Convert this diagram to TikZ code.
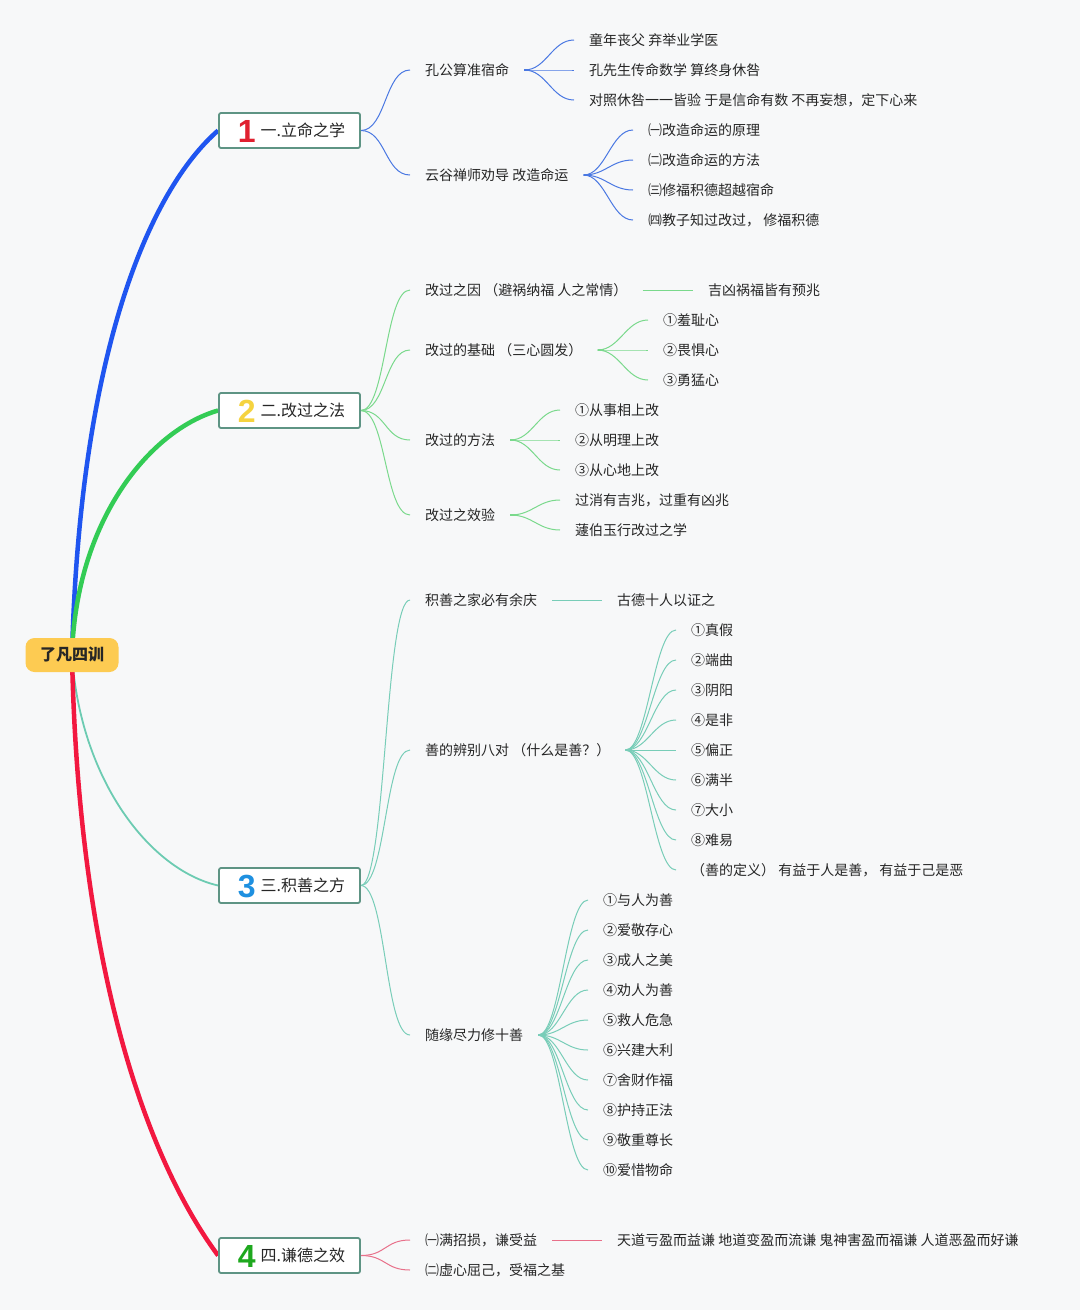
\documentclass[tikz,border=0pt]{standalone}
\usepackage{fontspec}
\setmainfont{Noto Sans CJK SC}
\newfontfamily\numfont{Liberation Sans}
\usetikzlibrary{calc,backgrounds}
\definecolor{bgc}{HTML}{F7F8F9}
\definecolor{ink}{HTML}{262626}
\definecolor{boxline}{HTML}{5E9484}
\definecolor{rootfill}{HTML}{FDCB52}
\definecolor{brBlue}{HTML}{1F55F0}
\definecolor{brGreen}{HTML}{33CC55}
\definecolor{brTeal}{HTML}{6CCBB2}
\definecolor{brRed}{HTML}{F21840}
\definecolor{lnBlue}{HTML}{4A78E2}
\definecolor{lnGreen}{HTML}{7AD98C}
\definecolor{lnTeal}{HTML}{78CDB8}
\definecolor{lnRed}{HTML}{E8708A}
\definecolor{num1}{HTML}{E0202F}
\definecolor{num2}{HTML}{F5D33F}
\definecolor{num3}{HTML}{1E90E0}
\definecolor{num4}{HTML}{1EA81E}
\newcommand{\bignum}[2]{{\raisebox{-6pt}{\numfont\bfseries\fontsize{32}{32}\selectfont\color{#1}#2}}}
\begin{document}
\begin{tikzpicture}[x=1pt,y=-1pt,
  txt/.style={anchor=west,inner xsep=15pt,inner ysep=2pt,font=\fontsize{14}{16}\selectfont,text=ink},
  mainbox/.style={draw=boxline,line width=1.8pt,fill=white,rounded corners=2pt,minimum width=141pt,minimum height=35pt,inner sep=0pt,text height=17pt,text depth=6pt,font=\fontsize{16}{18}\selectfont,text=ink},
  rootnode/.style={fill=rootfill,rounded corners=9pt,minimum width=93pt,minimum height=34pt,inner sep=0pt,font=\bfseries\fontsize{16}{18}\selectfont,text=ink},
  fan/.style={to path={.. controls ($(\tikztostart)+(#1,0)$) and ($(\tikztotarget)+(-#1,0)$) .. (\tikztotarget)}},
  fan/.default=22,
  thin/.style={line width=1pt},
  hub/.style={line width=2.2pt},
]
\useasboundingbox (0,0) rectangle (1080,1310);

% root and main boxes
\node[rootnode] (root) at (72,655) {了凡四训};
\node[mainbox] (B1) at (289.5,130.5) {\hspace{4pt}\bignum{num1}{1}\hspace{5pt}一.立命之学};
\node[mainbox] (B2) at (289.5,410.5) {\hspace{4pt}\bignum{num2}{2}\hspace{5pt}二.改过之法};
\node[mainbox] (B3) at (289.5,885.5) {\hspace{4pt}\bignum{num3}{3}\hspace{5pt}三.积善之方};
\node[mainbox] (B4) at (289.5,1255.5) {\hspace{4pt}\bignum{num4}{4}\hspace{5pt}四.谦德之效};

% branch 1
\node[txt] (a1) at (410,70) {孔公算准宿命};
\node[txt] (a11) at (574,40) {童年丧父 弃举业学医};
\node[txt] (a12) at (574,70) {孔先生传命数学 算终身休咎};
\node[txt] (a13) at (574,100) {对照休咎一一皆验 于是信命有数 不再妄想，定下心来};
\node[txt] (a2) at (410,175) {云谷禅师劝导 改造命运};
\node[txt] (a21) at (633,130) {㈠改造命运的原理};
\node[txt] (a22) at (633,160) {㈡改造命运的方法};
\node[txt] (a23) at (633,190) {㈢修福积德超越宿命};
\node[txt] (a24) at (633,220) {㈣教子知过改过， 修福积德};

% branch 2
\node[txt] (b1) at (410,290) {改过之因 （避祸纳福 人之常情）};
\node[txt] (b11) at (693,290) {吉凶祸福皆有预兆};
\node[txt] (b2) at (410,350) {改过的基础 （三心圆发）};
\node[txt] (b21) at (648,320) {①羞耻心};
\node[txt] (b22) at (648,350) {②畏惧心};
\node[txt] (b23) at (648,380) {③勇猛心};
\node[txt] (b3) at (410,440) {改过的方法};
\node[txt] (b31) at (560,410) {①从事相上改};
\node[txt] (b32) at (560,440) {②从明理上改};
\node[txt] (b33) at (560,470) {③从心地上改};
\node[txt] (b4) at (410,515) {改过之效验};
\node[txt] (b41) at (560,500) {过消有吉兆，过重有凶兆};
\node[txt] (b42) at (560,530) {蘧伯玉行改过之学};

% branch 3
\node[txt] (c1) at (410,600) {积善之家必有余庆};
\node[txt] (c11) at (602,600) {古德十人以证之};
\node[txt] (c2) at (410,750) {善的辨别八对 （什么是善？）};
\foreach \t [count=\i] in {①真假,②端曲,③阴阳,④是非,⑤偏正,⑥满半,⑦大小,⑧难易,{（善的定义） 有益于人是善， 有益于己是恶}}
  \node[txt] (c2\i) at (676,600+30*\i) {\t};
\node[txt] (c3) at (410,1035) {随缘尽力修十善};
\foreach \t [count=\i] in {①与人为善,②爱敬存心,③成人之美,④劝人为善,⑤救人危急,⑥兴建大利,⑦舍财作福,⑧护持正法,⑨敬重尊长,⑩爱惜物命}
  \node[txt] (c3\i) at (588,870+30*\i) {\t};

% branch 4
\node[txt] (d1) at (410,1240) {㈠满招损，谦受益};
\node[txt] (d11) at (602,1240) {天道亏盈而益谦 地道变盈而流谦 鬼神害盈而福谦 人道恶盈而好谦};
\node[txt] (d2) at (410,1270) {㈡虚心屈己，受福之基};

\begin{scope}[on background layer]
\fill[bgc] (0,0) rectangle (1080,1310);
% main branches
\draw[brBlue,line width=4.5pt] (root.center) .. controls (80,350) and (150,190) .. (B1.west);
\draw[brGreen,line width=4.5pt] (root.center) .. controls (76,520) and (150,430) .. (B2.west);
\draw[brTeal,line width=1.8pt] (root.center) .. controls (80,780) and (150,870) .. (B3.west);
\draw[brRed,line width=4.5pt] (root.center) .. controls (78,950) and (140,1150) .. (B4.west);

% branch 1 connectors
\begin{scope}[lnBlue,thin]
\foreach \n in {a1,a2} \draw (B1.east) to[fan=25] (\n.west);
\foreach \n in {a11,a12,a13} \draw (a1.east) to[fan] (\n.west);
\foreach \n in {a21,a22,a23,a24} \draw (a2.east) to[fan] (\n.west);
\draw[hub] (a1.east) -- ++(6,0);
\draw[hub] (a2.east) -- ++(6,0);
\end{scope}

% branch 2 connectors
\begin{scope}[lnGreen,thin]
\foreach \n in {b1,b2,b3,b4} \draw (B2.east) to[fan=25] (\n.west);
\draw (b1.east) -- (b11.west);
\foreach \n in {b21,b22,b23} \draw (b2.east) to[fan] (\n.west);
\foreach \n in {b31,b32,b33} \draw (b3.east) to[fan] (\n.west);
\foreach \n in {b41,b42} \draw (b4.east) to[fan] (\n.west);
\draw[hub] (b2.east) -- ++(6,0);
\draw[hub] (b3.east) -- ++(6,0);
\draw[hub] (b4.east) -- ++(6,0);
\end{scope}

% branch 3 connectors
\begin{scope}[lnTeal,thin]
\foreach \n in {c1,c2,c3} \draw (B3.east) to[fan=25] (\n.west);
\draw (c1.east) -- (c11.west);
\foreach \i in {1,...,9} \draw (c2.east) to[fan] (c2\i.west);
\foreach \i in {1,...,10} \draw (c3.east) to[fan] (c3\i.west);
\draw[hub] (c2.east) -- ++(6,0);
\draw[hub] (c3.east) -- ++(6,0);
\end{scope}

% branch 4 connectors
\begin{scope}[lnRed,thin]
\foreach \n in {d1,d2} \draw (B4.east) to[fan=25] (\n.west);
\draw (d1.east) -- (d11.west);
\end{scope}
\end{scope}
\end{tikzpicture}
\end{document}
